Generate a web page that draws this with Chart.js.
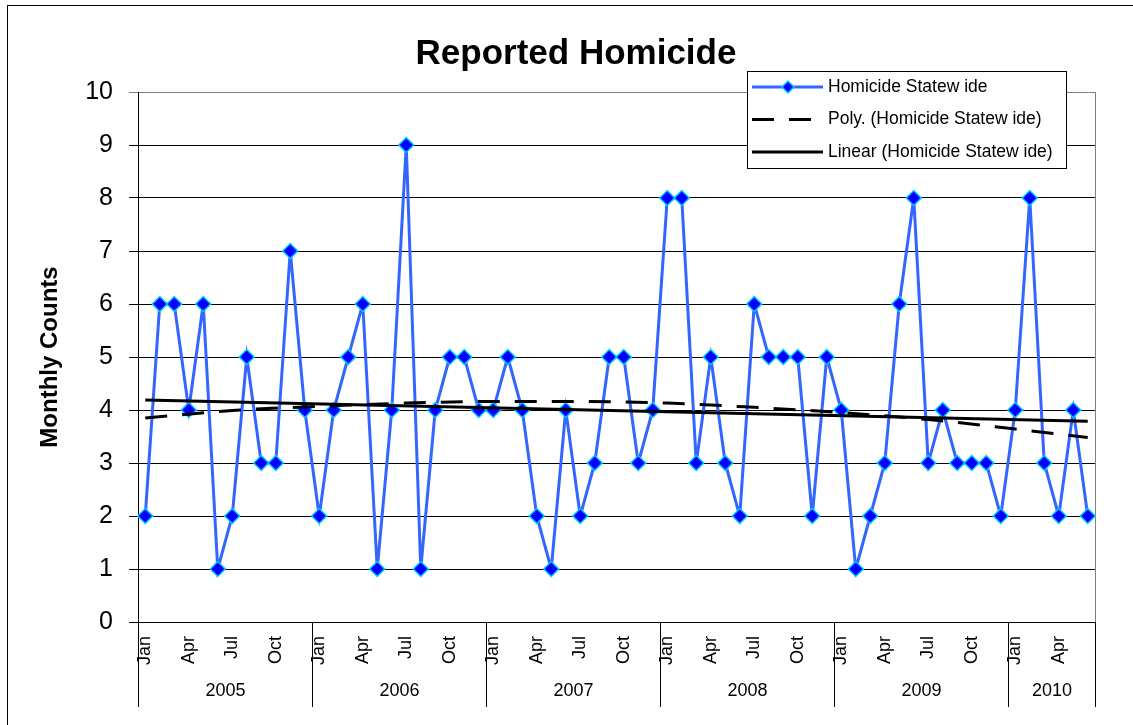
<!DOCTYPE html>
<html>
<head>
<meta charset="utf-8">
<script src="https://cdn.jsdelivr.net/npm/chart.js@4.4.0/dist/chart.umd.min.js"></script>
<style>
    html, body { margin: 0; padding: 0; background: #fff; overflow: hidden; }
    #frame {
        position: absolute; left: 7px; top: 5px;
        border-left: 1px solid #000; border-top: 1px solid #000;
    }
    canvas { display: block; }
</style>
</head>
<body>
<div id="frame"><canvas id="homicideChart" width="1136" height="730"></canvas></div>
<script>
const monthNames = ['Jan', 'Feb', 'Mar', 'Apr', 'May', 'Jun', 'Jul', 'Aug', 'Sep', 'Oct', 'Nov', 'Dec'];
const shownMonths = ['Jan', 'Apr', 'Jul', 'Oct'];
const years = ['2005', '2006', '2007', '2008', '2009', '2010'];
const monthsPerYear = [12, 12, 12, 12, 12, 6];
const yTicks = [0, 1, 2, 3, 4, 5, 6, 7, 8, 9, 10];

const homicides = [
    2, 6, 6, 4, 6, 1, 2, 5, 3, 3, 7, 4,
    2, 4, 5, 6, 1, 4, 9, 1, 4, 5, 5, 4,
    4, 5, 4, 2, 1, 4, 2, 3, 5, 5, 3, 4,
    8, 8, 3, 5, 3, 2, 6, 5, 5, 5, 2, 5,
    4, 1, 2, 3, 6, 8, 3, 4, 3, 3, 3, 2,
    4, 8, 3, 2, 4, 2
];

// trend lines at a few months
const polyIdx = [0, 6, 12, 18, 24, 30, 36, 42, 48, 54, 60, 65];
const polyVal = [3.85, 3.99, 4.07, 4.13, 4.16, 4.16, 4.13, 4.05, 3.95, 3.82, 3.64, 3.48];
const linearIdx = [0, 65];
const linearVal = [4.19, 3.79];

const labels = [];
years.forEach((yr, k) => {
    for (let m = 0; m < monthsPerYear[k]; m++) labels.push(monthNames[m]);
});

function sparse(idx, vals) {
    const arr = labels.map(() => null);
    idx.forEach((i, k) => { arr[i] = vals[k]; });
    return arr;
}

const FONT = "'Liberation Sans', Arial, sans-serif";

const yearAxisPlugin = {
    id: 'yearAxis',
    afterDraw(chart) {
        const ctx = chart.ctx;
        const xs = chart.scales.x;
        const area = chart.chartArea;
        const boundary = i => {
            if (i <= 0) return area.left;
            if (i >= labels.length) return area.right;
            return (xs.getPixelForValue(i - 1) + xs.getPixelForValue(i)) / 2;
        };
        ctx.save();
        ctx.strokeStyle = '#000';
        ctx.lineWidth = 1;
        ctx.fillStyle = '#000';
        ctx.font = '18px ' + FONT;
        ctx.textAlign = 'center';
        ctx.textBaseline = 'middle';
        let start = 0;
        years.forEach((yr, k) => {
            const x0 = Math.round(boundary(start)) + 0.5;
            const x1 = Math.round(boundary(start + monthsPerYear[k])) + 0.5;
            [x0, x1].forEach(x => {
                ctx.beginPath();
                ctx.moveTo(x, area.bottom);
                ctx.lineTo(x, area.bottom + 85);
                ctx.stroke();
            });
            ctx.fillText(yr, (x0 + x1) / 2, area.bottom + 69);
            start += monthsPerYear[k];
        });
        ctx.restore();
    }
};

const legendPlugin = {
    id: 'boxLegend',
    afterDraw(chart) {
        const ctx = chart.ctx;
        const area = chart.chartArea;
        const left = area.right - 348, top = area.top - 21;
        const w = 319, h = 97;
        ctx.save();
        ctx.fillStyle = '#fff';
        ctx.fillRect(left, top, w, h);
        ctx.strokeStyle = '#000';
        ctx.lineWidth = 1;
        ctx.strokeRect(left + 0.5, top + 0.5, w, h);
        ctx.font = '17.5px ' + FONT;
        ctx.textBaseline = 'middle';
        ctx.textAlign = 'left';
        chart.data.datasets.forEach((ds, k) => {
            const y = top + 16 + k * 32.5;
            ctx.strokeStyle = ds.borderColor;
            ctx.lineWidth = ds.borderWidth;
            ctx.setLineDash(ds.borderDash || []);
            ctx.beginPath();
            ctx.moveTo(left + 5, y);
            ctx.lineTo(left + 76, y);
            ctx.stroke();
            ctx.setLineDash([]);
            if (ds.pointRadius > 0) {
                const cx = left + 41, r = 6;
                ctx.beginPath();
                ctx.moveTo(cx - r, y);
                ctx.lineTo(cx, y - r);
                ctx.lineTo(cx + r, y);
                ctx.lineTo(cx, y + r);
                ctx.closePath();
                ctx.fillStyle = ds.pointBackgroundColor;
                ctx.fill();
                ctx.strokeStyle = ds.pointBorderColor;
                ctx.lineWidth = 1.5;
                ctx.stroke();
            }
            ctx.fillStyle = '#000';
            ctx.fillText(ds.label, left + 81, y);
        });
        ctx.restore();
    }
};

new Chart(document.getElementById('homicideChart'), {
    type: 'line',
    data: {
        labels: labels,
        datasets: [
            {
                label: 'Homicide Statew ide',
                data: homicides,
                borderColor: '#3366ff',
                borderWidth: 3,
                pointStyle: 'rectRot',
                pointRadius: 7.5,
                pointBackgroundColor: '#0000ff',
                pointBorderColor: '#00ccff',
                pointBorderWidth: 1.5,
                tension: 0,
                order: 3
            },
            {
                label: 'Poly. (Homicide Statew ide)',
                data: sparse(polyIdx, polyVal),
                borderColor: '#000',
                borderWidth: 3,
                borderDash: [22, 15],
                pointRadius: 0,
                spanGaps: true,
                cubicInterpolationMode: 'monotone',
                order: 2
            },
            {
                label: 'Linear (Homicide Statew ide)',
                data: sparse(linearIdx, linearVal),
                borderColor: '#000',
                borderWidth: 3,
                pointRadius: 0,
                spanGaps: true,
                order: 1
            }
        ]
    },
    options: {
        responsive: false,
        animation: false,
        layout: { padding: { top: 0, left: 0, right: 0, bottom: 14 } },
        plugins: {
            legend: { display: false },
            tooltip: { enabled: false },
            title: {
                display: true,
                text: 'Reported Homicide',
                color: '#000',
                font: { family: FONT, size: 35, weight: 'bold', lineHeight: 1.2 },
                padding: { top: 27, bottom: 17 }
            }
        },
        scales: {
            x: {
                offset: true,
                grid: { display: true, drawOnChartArea: false, drawTicks: false },
                border: { color: '#000', width: 1 },
                ticks: {
                    autoSkip: false,
                    minRotation: 90,
                    maxRotation: 90,
                    padding: 14,
                    color: '#000',
                    font: { family: FONT, size: 18 },
                    callback: function(value) {
                        const name = labels[value];
                        return shownMonths.includes(name) ? name : '';
                    }
                },
                afterFit: function(scale) { scale.height = 100; }
            },
            y: {
                min: yTicks[0],
                max: yTicks[yTicks.length - 1],
                afterBuildTicks: function(scale) {
                    scale.ticks = yTicks.map(v => ({ value: v }));
                },
                grid: {
                    color: function(ctx) { return ctx.tick && ctx.tick.value === 10 ? '#808080' : '#000'; },
                    lineWidth: 1,
                    tickLength: 9
                },
                border: { color: '#000', width: 1 },
                ticks: {
                    padding: 16,
                    color: '#000',
                    font: { family: FONT, size: 25 }
                },
                title: {
                    display: true,
                    text: 'Monthly Counts',
                    color: '#000',
                    font: { family: FONT, size: 24, weight: 'bold', lineHeight: 1.2 },
                    padding: { top: 28, bottom: 0 }
                },
                afterFit: function(scale) { scale.width = 130; }
            },
            yRight: {
                position: 'right',
                grid: { display: true, drawOnChartArea: false, drawTicks: false },
                border: { color: '#808080', width: 1 },
                ticks: { display: false },
                afterFit: function(scale) { scale.width = 49; }
            }
        }
    },
    plugins: [yearAxisPlugin, legendPlugin]
});
</script>
</body>
</html>
